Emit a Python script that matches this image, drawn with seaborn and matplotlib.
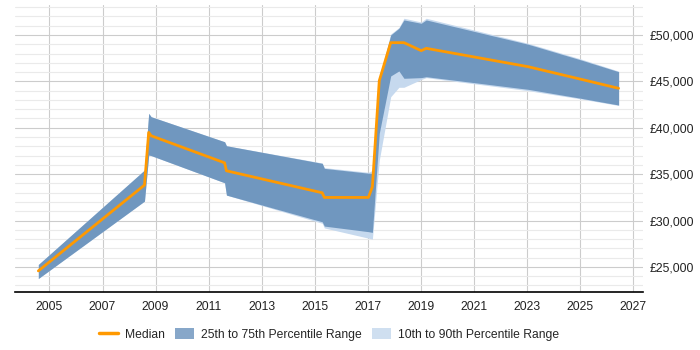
import matplotlib
matplotlib.use("Agg")
import matplotlib.pyplot as plt
import matplotlib.ticker as mticker
from matplotlib.patches import Patch
from matplotlib.lines import Line2D
import seaborn as sns
import pandas as pd

# ---- data (decimal years) ----
years = [2004.58, 2008.58, 2008.74, 2008.83, 2011.60, 2011.67, 2015.28, 2015.36,
         2017.02, 2017.17, 2017.43, 2017.86, 2018.17, 2018.36, 2019.01, 2019.20,
         2023.04, 2025.04, 2026.45]
median = [24570, 33820, 39500, 39140, 36220, 35360, 32990, 32490,
          32490, 33640, 45070, 49170, 49170, 49170, 48310, 48560,
          46580, 45220, 44250]
p25 = [23750, 32090, 37060, 37000, 34070, 32740, 29860, 29400,
       28800, 28720, 39400, 45580, 46120, 45330, 45400, 45500,
       44140, 43170, 42450]
p75 = [25260, 35440, 41550, 41190, 38490, 38060, 36160, 35620,
       35100, 35080, 45200, 50000, 50720, 51620, 51260, 51620,
       49000, 47300, 46040]
p10 = [23750, 32090, 37060, 37000, 34070, 32740, 29700, 29200,
       28100, 28000, 36500, 43340, 44360, 44360, 45200, 45400,
       44000, 43100, 42400]
p90 = [25260, 35440, 41550, 41190, 38490, 38060, 36200, 35700,
       35200, 35400, 45500, 50100, 50800, 51800, 51400, 51800,
       49100, 47400, 46100]

xticks = [2005, 2007, 2009, 2011, 2013, 2015, 2017, 2019, 2021, 2023, 2025, 2027]
yticks = [25000, 30000, 35000, 40000, 45000, 50000]
legend_labels = ["Median", "25th to 75th Percentile Range", "10th to 90th Percentile Range"]

df = pd.DataFrame({"year": years, "median": median, "p10": p10, "p25": p25,
                   "p75": p75, "p90": p90})

sns.set_style("white")
plt.rcParams['font.family'] = ['Liberation Sans', 'DejaVu Sans']

ORANGE = "#ff9900"
DARK = "#7097bf"
LIGHT = "#c6d9ee"

fig = plt.figure(figsize=(7, 3.5), dpi=100)
ax = fig.add_axes([0.0214, 0.165, 0.8972, 0.821])

ax.fill_between(df["year"], df["p10"], df["p90"], color=LIGHT, lw=0, zorder=2)
ax.fill_between(df["year"], df["p25"], df["p75"], color=DARK, lw=0, zorder=3)
sns.lineplot(data=df, x="year", y="median", ax=ax, color=ORANGE, lw=2,
             zorder=4, legend=False)

ax.set_xlim(2003.7, 2027.37)
ax.set_ylim(22270, 53240)
ax.set_xticks(xticks)
ax.set_yticks(yticks)
ax.yaxis.set_minor_locator(mticker.MultipleLocator(1000))
ax.yaxis.set_major_formatter(mticker.FuncFormatter(lambda v, p: "£{:,.0f}".format(v)))
ax.yaxis.tick_right()
ax.tick_params(axis="both", which="both", length=0, labelsize=8.7, colors="#222222")
ax.tick_params(axis="y", pad=5)
ax.tick_params(axis="x", pad=6)
ax.set_xlabel("")
ax.set_ylabel("")

ax.grid(True, which="major", axis="both", color="#cccccc", lw=0.8, zorder=0)
ax.grid(True, which="minor", axis="y", color="#eaeaea", lw=0.8, zorder=0)
ax.set_axisbelow(True)
for s in ["left", "right", "top"]:
    ax.spines[s].set_visible(False)
ax.spines["bottom"].set_color("black")
ax.spines["bottom"].set_linewidth(1.2)

handles = [Line2D([0], [0], color=ORANGE, lw=2.5),
           Patch(facecolor="#87a7c9", edgecolor="none"),
           Patch(facecolor="#cfdff0", edgecolor="none")]
fig.legend(handles, legend_labels, loc="center", bbox_to_anchor=(0.47, 0.045),
           ncol=3, frameon=False, fontsize=8.7, handlelength=1.6, handleheight=1.0,
           columnspacing=0.85, handletextpad=0.55)

fig.savefig("out.png", dpi=100)
